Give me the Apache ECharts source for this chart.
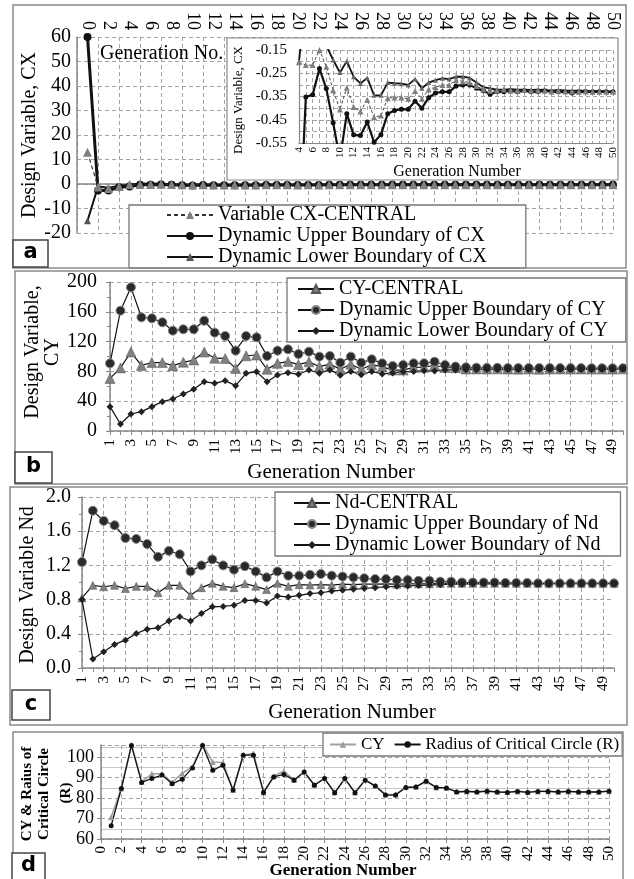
<!DOCTYPE html>
<html><head><meta charset="utf-8">
<script src="https://cdn.jsdelivr.net/npm/echarts/dist/echarts.min.js"></script>
<style>html,body{margin:0;padding:0;background:#fff}#c{width:634px;height:879px}</style>
</head><body><div id="c"></div>
<script>
// ---------- categories ----------
const gensA = [0,1,2,3,4,5,6,7,8,9,10,11,12,13,14,15,16,17,18,19,20,21,22,23,24,25,26,27,28,29,30,31,32,33,34,35,36,37,38,39,40,41,42,43,44,45,46,47,48,49,50];
const gens = [1,2,3,4,5,6,7,8,9,10,11,12,13,14,15,16,17,18,19,20,21,22,23,24,25,26,27,28,29,30,31,32,33,34,35,36,37,38,39,40,41,42,43,44,45,46,47,48,49,50];

// ---------- panel a : CX (generations 0..50) ----------
const cxCentral = [13,-1.2,-1.8,-1.0,-0.203,-0.215,-0.215,-0.15,-0.222,-0.323,-0.406,-0.312,-0.395,-0.414,-0.364,-0.439,-0.432,-0.357,-0.354,-0.354,-0.36,-0.326,-0.36,-0.32,-0.31,-0.30,-0.30,-0.28,-0.285,-0.29,-0.305,-0.32,-0.325,-0.325,-0.32,-0.325,-0.325,-0.322,-0.325,-0.325,-0.325,-0.328,-0.325,-0.328,-0.328,-0.33,-0.328,-0.33,-0.33,-0.33,-0.33];
const cxUpper = [60,-2.7,-2.7,-1.3,-1.0,-0.352,-0.342,-0.23,-0.316,-0.463,-0.62,-0.424,-0.515,-0.518,-0.46,-0.547,-0.514,-0.424,-0.41,-0.405,-0.405,-0.37,-0.40,-0.355,-0.335,-0.33,-0.33,-0.305,-0.30,-0.30,-0.315,-0.325,-0.34,-0.33,-0.33,-0.325,-0.33,-0.325,-0.33,-0.33,-0.325,-0.33,-0.33,-0.33,-0.335,-0.33,-0.33,-0.33,-0.33,-0.33,-0.33];
const cxLower = [-15,-1.0,-1.5,-0.8,-0.2,0.1,0.2,0.1,-0.13,-0.193,-0.247,-0.198,-0.265,-0.294,-0.27,-0.345,-0.345,-0.29,-0.293,-0.295,-0.30,-0.275,-0.315,-0.29,-0.28,-0.272,-0.275,-0.265,-0.265,-0.27,-0.29,-0.31,-0.315,-0.32,-0.32,-0.318,-0.32,-0.32,-0.322,-0.32,-0.322,-0.325,-0.322,-0.325,-0.325,-0.325,-0.325,-0.328,-0.325,-0.328,-0.328];
const insetFrom = 4;

// ---------- panel b : CY (generations 1..50) ----------
const cyCentral = [70.6,84.7,106,88,91.9,91.9,87.7,92.2,95.3,106,97.7,97.4,84,101,102,82.8,90.8,93.2,89,92.8,86.5,89.8,82.8,89.6,82.8,89,86,81.8,81.8,85.4,85.6,88.3,85.2,85,83.2,83.3,83.2,83.4,83.1,83,83.3,83,83.3,83.3,83.1,83.3,83.1,83.1,83.1,83.4];
const cyUpper = [90.8,161.5,192.8,152.6,151.2,145.9,134.7,136.5,136.5,148,132,127.5,107.8,127.5,125.7,100.7,107.8,109.6,103.4,106.5,99.8,100.7,91.7,99.8,91.7,96.2,90.8,87.2,88.6,90.8,90.8,93,88.6,86.5,85.5,85,84.8,84.8,84.6,84.5,84.5,84.5,84.5,84.4,84.4,84.4,84.3,84.3,84.3,84.3];
const cyLower = [32.7,9.4,22.8,26,32.7,39.4,43,49.7,55.9,66.2,64,67.6,60.9,77.4,79.6,66.2,75.2,78.3,76.1,81.9,77.6,82,75,80,75.5,80,76.5,78,79.5,80,81,80.5,82,82,82.2,82.3,82.4,82.5,82.5,82.5,82.6,82.6,82.6,82.7,82.7,82.7,82.7,82.8,82.8,82.8];

// ---------- panel c : Nd ----------
const ndCentral = [0.82,0.967,0.95,0.967,0.93,0.955,0.955,0.88,0.967,0.967,0.85,0.94,0.99,0.955,0.94,0.986,0.955,0.917,0.99,0.955,0.975,0.97,0.975,0.97,0.98,0.975,0.98,0.98,0.985,0.98,0.985,0.985,0.985,0.99,0.99,0.99,0.99,0.99,0.99,0.99,0.99,0.99,0.99,0.99,0.99,0.99,0.99,0.99,0.99,0.99];
const ndUpper = [1.24,1.84,1.72,1.67,1.52,1.51,1.45,1.30,1.37,1.33,1.13,1.20,1.27,1.20,1.15,1.19,1.13,1.06,1.13,1.08,1.08,1.09,1.10,1.08,1.07,1.06,1.05,1.04,1.04,1.03,1.03,1.02,1.02,1.01,1.01,1.0,1.0,1.0,1.0,0.995,0.995,0.995,0.99,0.99,0.99,0.99,0.99,0.99,0.99,0.99];
const ndLower = [0.80,0.105,0.19,0.276,0.326,0.404,0.454,0.47,0.55,0.6,0.55,0.637,0.715,0.72,0.734,0.79,0.79,0.76,0.843,0.83,0.85,0.87,0.88,0.90,0.91,0.92,0.93,0.94,0.95,0.955,0.96,0.965,0.97,0.975,0.98,0.98,0.985,0.985,0.985,0.985,0.985,0.985,0.985,0.985,0.988,0.988,0.988,0.988,0.988,0.988];

// ---------- panel d : CY & R ----------
const radiusR = [66.5,84.7,105.8,87.7,89.6,91.3,87,89.3,94.8,105.8,93.6,96.1,84,101,101,82.8,90.4,91.6,88.8,92.8,86.3,89.6,82.6,89.6,82.6,88.8,85.9,81.5,81.5,85.2,85.5,88.3,85.2,85,83,83.3,83,83.4,83,82.8,83.3,82.8,83.3,83.3,83,83.3,83,83,83,83.4];

// ---------- helpers ----------
const SERIF = 'Liberation Serif';
const AX = '#888';
const dash = {color:'#a3a3a3', type:[4,3], width:1};
const lab = (size, extra) => Object.assign({fontFamily:SERIF, fontSize:size, color:'#000'}, extra || {});
const pairs = (xs, ys) => xs.map((x, i) => [x, ys[i]]);
const gensInset = gensA.slice(insetFrom).map(String);
const gensS = gens.map(String);
const txt = (text, x, y, font, rot, extra) => ({
  type:'text', x:x, y:y, rotation: rot || 0, z:20,
  style: Object.assign({text:text, font:font, fill:'#000', align:'center', verticalAlign:'middle',
    textAlign:'center', textVerticalAlign:'middle'}, extra || {})
});
const box = (x, y, w, h, stroke, lw, fill, z) => ({
  type:'rect', z: z || 10, shape:{x:x, y:y, width:w, height:h},
  style:{fill: fill || 'none', stroke: stroke, lineWidth: lw}
});
const F20 = '20px "Liberation Serif"';
const R90 = Math.PI / 2;

const legendBase = {
  orient:'vertical', selectedMode:false, backgroundColor:'#fff', borderColor:'#777', borderWidth:1.3,
  itemHeight:10, itemGap:1, textStyle:lab(20)
};

const option = {
  animation:false,
  backgroundColor:'#fff',
  grid:[
    {left:77, top:37, width:536, height:196},
    {left:299, top:50, width:314, height:93},
    {left:110, top:282, width:513, height:149},
    {left:82, top:497, width:532, height:171},
    {left:101, top:745, width:508, height:94}
  ],
  xAxis:[
    {gridIndex:0, type:'value', min:-1, max:50, interval:1, position:'top',
      axisLine:{show:false, onZero:false}, axisTick:{show:false}, splitLine:{show:false},
      axisLabel:lab(18, {rotate:90, margin:7, formatter:v => (v >= 0 && v % 2 === 0) ? String(v) : ''})},
    {gridIndex:0, type:'value', min:-1, max:50, interval:2, position:'bottom',
      axisLine:{show:true, onZero:true, lineStyle:{color:AX, width:1.5}}, axisTick:{show:false},
      axisLabel:{show:false}, splitLine:{show:true, lineStyle:dash}},
    {gridIndex:1, type:'category', data:gensInset, boundaryGap:false, z:5,
      axisLine:{show:true, lineStyle:{color:AX, width:1.2}}, axisTick:{show:false},
      axisLabel:lab(11, {interval:1, rotate:90, margin:4}),
      splitLine:{show:true, interval:0, lineStyle:dash}},
    {gridIndex:2, type:'category', data:gensS, boundaryGap:false,
      axisLine:{show:true, lineStyle:{color:AX, width:1.5}},
      axisTick:{show:true, interval:0, length:4, lineStyle:{color:AX}},
      axisLabel:lab(15, {interval:1, rotate:90, margin:8}),
      splitLine:{show:true, interval:1, lineStyle:dash}},
    {gridIndex:3, type:'category', data:gensS, boundaryGap:false,
      axisLine:{show:true, lineStyle:{color:AX, width:1.5}},
      axisTick:{show:true, interval:0, length:4, lineStyle:{color:AX}},
      axisLabel:lab(15, {interval:1, rotate:90, margin:8}),
      splitLine:{show:true, interval:1, lineStyle:dash}},
    {gridIndex:4, type:'value', min:0, max:50, interval:2,
      axisLine:{show:true, lineStyle:{color:AX, width:1.5}},
      axisTick:{show:true, length:4, lineStyle:{color:AX}},
      axisLabel:lab(15, {rotate:90, margin:7}),
      splitLine:{show:true, lineStyle:dash}}
  ],
  yAxis:[
    {gridIndex:0, type:'value', min:-20, max:60, interval:10,
      axisLine:{show:true, onZero:false, lineStyle:{color:AX, width:1.5}}, axisTick:{show:false},
      axisLabel:lab(20, {margin:6}), splitLine:{show:true, lineStyle:dash}},
    {gridIndex:1, type:'value', min:-0.55, max:-0.15, interval:0.1, z:5,
      axisLine:{show:true, lineStyle:{color:AX, width:1.2}}, axisTick:{show:false},
      axisLabel:lab(15, {margin:12, formatter:v => v.toFixed(2)}),
      splitLine:{show:true, lineStyle:dash},
      minorTick:{show:false, splitNumber:2}, minorSplitLine:{show:true, lineStyle:dash}},
    {gridIndex:2, type:'value', min:0, max:200, interval:40,
      axisLine:{show:true, lineStyle:{color:AX, width:1.5}},
      axisTick:{show:true, length:4, lineStyle:{color:AX}},
      minorTick:{show:true, splitNumber:2, length:3, lineStyle:{color:AX}},
      axisLabel:lab(20, {margin:13}), splitLine:{show:true, lineStyle:dash}},
    {gridIndex:3, type:'value', min:0, max:2, interval:0.4,
      axisLine:{show:true, lineStyle:{color:AX, width:1.5}},
      axisTick:{show:true, length:4, lineStyle:{color:AX}},
      minorTick:{show:true, splitNumber:2, length:3, lineStyle:{color:AX}},
      axisLabel:lab(20, {margin:11, formatter:v => v.toFixed(1)}), splitLine:{show:true, lineStyle:dash}},
    {gridIndex:4, type:'value', min:60, max:106, interval:10,
      axisLine:{show:true, lineStyle:{color:AX, width:1.5}},
      axisTick:{show:true, length:4, lineStyle:{color:AX}},
      axisLabel:lab(18, {margin:7, showMaxLabel:false}),
      splitLine:{show:true, lineStyle:dash},
      minorTick:{show:false, splitNumber:2}, minorSplitLine:{show:true, lineStyle:{color:'#c8c8c8', width:1}}}
  ],
  legend:[
    Object.assign({}, legendBase, {left:129, top:205, itemWidth:46, padding:[0, 39, 1, 37],
      data:['Variable CX-CENTRAL', 'Dynamic Upper Boundary of CX', 'Dynamic Lower Boundary of CX']}),
    Object.assign({}, legendBase, {left:287, top:278, itemWidth:36, padding:[1, 18, 1, 10],
      data:['CY-CENTRAL', 'Dynamic Upper Boundary of CY', 'Dynamic Lower Boundary of CY']}),
    Object.assign({}, legendBase, {left:275, top:492, itemWidth:36, padding:[1, 20, 1, 18],
      data:['Nd-CENTRAL', 'Dynamic Upper Boundary of Nd', 'Dynamic Lower Boundary of Nd']}),
    {orient:'horizontal', left:323, top:733, width:310, selectedMode:false, backgroundColor:'#fff',
      borderColor:'#777', borderWidth:1.3, itemWidth:26, itemHeight:8, itemGap:9,
      padding:[3, 3, 3, 6], textStyle:lab(17), data:['CY', 'Radius of Critical Circle (R)']}
  ],
  series:[
    // panel a main
    {name:'Dynamic Upper Boundary of CX', type:'line', xAxisIndex:1, yAxisIndex:0,
      data:pairs(gensA, cxUpper), symbol:'circle', symbolSize:8, showAllSymbol:true,
      itemStyle:{color:'#111'}, lineStyle:{color:'#111', width:3}, z:2},
    {name:'Dynamic Lower Boundary of CX', type:'line', xAxisIndex:1, yAxisIndex:0,
      data:pairs(gensA, cxLower), symbol:'triangle', symbolSize:7, showAllSymbol:true,
      itemStyle:{color:'#555'}, lineStyle:{color:'#111', width:2}, z:2},
    {name:'Variable CX-CENTRAL', type:'line', xAxisIndex:1, yAxisIndex:0,
      data:pairs(gensA, cxCentral), symbol:'triangle', symbolSize:9, showAllSymbol:true,
      itemStyle:{color:'#7f7f7f'}, lineStyle:{color:'#333', width:1.2, type:[4,3]}, z:2},
    // panel a inset
    {name:'inset upper CX', type:'line', xAxisIndex:2, yAxisIndex:1,
      data:cxUpper.slice(insetFrom), symbol:'circle', symbolSize:5, showAllSymbol:true,
      itemStyle:{color:'#111'}, lineStyle:{color:'#111', width:2.2}, z:6},
    {name:'inset lower CX', type:'line', xAxisIndex:2, yAxisIndex:1,
      data:cxLower.slice(insetFrom), symbol:'triangle', symbolSize:5, showAllSymbol:true,
      itemStyle:{color:'#666'}, lineStyle:{color:'#111', width:1.8}, z:6},
    {name:'inset central CX', type:'line', xAxisIndex:2, yAxisIndex:1,
      data:cxCentral.slice(insetFrom), symbol:'triangle', symbolSize:6, showAllSymbol:true,
      itemStyle:{color:'#7f7f7f'}, lineStyle:{color:'#444', width:1, type:[3,2]}, z:6},
    // panel b
    {name:'CY-CENTRAL', type:'line', xAxisIndex:3, yAxisIndex:2, data:cyCentral,
      symbol:'triangle', symbolSize:10, showAllSymbol:true,
      itemStyle:{color:'#808080', borderColor:'#555', borderWidth:0.5}, lineStyle:{color:'#111', width:1.2}},
    {name:'Dynamic Upper Boundary of CY', type:'line', xAxisIndex:3, yAxisIndex:2, data:cyUpper,
      symbol:'circle', symbolSize:9, showAllSymbol:true,
      itemStyle:{color:'#2a2a2a', borderColor:'#888', borderWidth:1}, lineStyle:{color:'#111', width:1.2}},
    {name:'Dynamic Lower Boundary of CY', type:'line', xAxisIndex:3, yAxisIndex:2, data:cyLower,
      symbol:'diamond', symbolSize:7, showAllSymbol:true,
      itemStyle:{color:'#222'}, lineStyle:{color:'#111', width:1.2}},
    // panel c
    {name:'Nd-CENTRAL', type:'line', xAxisIndex:4, yAxisIndex:3, data:ndCentral,
      symbol:'triangle', symbolSize:8, showAllSymbol:true,
      itemStyle:{color:'#808080', borderColor:'#555', borderWidth:0.5}, lineStyle:{color:'#111', width:1.2}},
    {name:'Dynamic Upper Boundary of Nd', type:'line', xAxisIndex:4, yAxisIndex:3, data:ndUpper,
      symbol:'circle', symbolSize:9, showAllSymbol:true,
      itemStyle:{color:'#2a2a2a', borderColor:'#888', borderWidth:1}, lineStyle:{color:'#111', width:1.2}},
    {name:'Dynamic Lower Boundary of Nd', type:'line', xAxisIndex:4, yAxisIndex:3, data:ndLower,
      symbol:'diamond', symbolSize:7, showAllSymbol:true,
      itemStyle:{color:'#222'}, lineStyle:{color:'#111', width:1.2}},
    // panel d
    {name:'CY', type:'line', xAxisIndex:5, yAxisIndex:4, data:pairs(gens, cyCentral),
      symbol:'triangle', symbolSize:6, showAllSymbol:true,
      itemStyle:{color:'#9a9a9a'}, lineStyle:{color:'#a0a0a0', width:1.6}},
    {name:'Radius of Critical Circle (R)', type:'line', xAxisIndex:5, yAxisIndex:4, data:pairs(gens, radiusR),
      symbol:'circle', symbolSize:5, showAllSymbol:true,
      itemStyle:{color:'#111'}, lineStyle:{color:'#111', width:1.3}}
  ],
  graphic:{elements:[
    // inset background box
    box(227, 38, 391, 142, '#8a8a8a', 1.2, '#fff', 3),
    // panel frames
    box(13, 5, 613, 263, '#8a8a8a', 1.5),
    box(15, 271, 612, 213, '#8a8a8a', 1.5),
    box(10, 487, 617, 238, '#8a8a8a', 1.5),
    box(13, 732, 610, 152, '#8a8a8a', 1.5),
    // panel letter boxes
    box(13, 240, 35, 27, '#444', 1.5, '#fff', 15),
    box(15, 452, 37, 31, '#444', 1.5, '#fff', 15),
    box(12, 690, 38, 30, '#444', 1.5, '#fff', 15),
    box(12, 853, 33, 27, '#444', 1.5, '#fff', 15),
    txt('a', 30.5, 253, 'bold 21px "DejaVu Sans"'),
    txt('b', 33.5, 467, 'bold 21px "DejaVu Sans"'),
    txt('c', 31, 705, 'bold 21px "DejaVu Sans"'),
    txt('d', 28.5, 866, 'bold 21px "DejaVu Sans"'),
    // axis titles
    txt('Design Variable, CX', 30, 135, F20, R90),
    txt('Generation No.', 100, 54, F20, 0, {align:'left', textAlign:'left'}),
    txt('Design Variable, CX', 239, 100, '13px "Liberation Serif"', R90),
    txt('Generation Number', 457, 172, '16px "Liberation Serif"'),
    txt('Design Variable,\nCY', 43, 352, F20, R90, {lineHeight:20}),
    txt('Generation Number', 331, 472, '21px "Liberation Serif"'),
    txt('Design Variable Nd', 28, 585, F20, R90),
    txt('Generation Number', 352, 712, '21px "Liberation Serif"'),
    txt('CY & Raius of\nCritical Circle', 36, 794, 'bold 15px "Liberation Serif"', R90, {lineHeight:17}),
    txt('(R)', 66, 793, 'bold 15px "Liberation Serif"', R90),
    txt('Generation Number', 343, 871, 'bold 17px "Liberation Serif"')
  ]}
};

const chart = echarts.init(document.getElementById('c'), null, {renderer:'canvas', width:634, height:879});
chart.setOption(option);
</script>
</body></html>
